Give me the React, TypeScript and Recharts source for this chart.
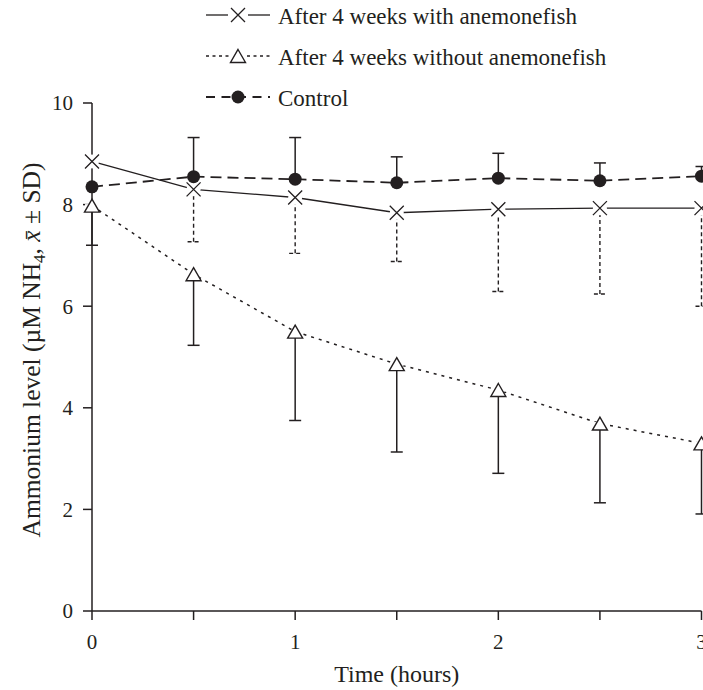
import React from 'react';
import { LineChart, Line, XAxis, YAxis, ErrorBar, Legend } from 'recharts';

// ---- data ----
const times = [0, 0.5, 1, 1.5, 2, 2.5, 3];
const withFish = [8.85, 8.3, 8.14, 7.84, 7.91, 7.93, 7.93];
const withFishSD = [0, 1.03, 1.1, 0.96, 1.62, 1.69, 1.93];
const withoutFish = [7.98, 6.63, 5.5, 4.86, 4.35, 3.69, 3.3];
const withoutFishSD = [0.78, 1.4, 1.75, 1.73, 1.64, 1.56, 1.39];
const control = [8.35, 8.55, 8.5, 8.43, 8.52, 8.47, 8.56];
const controlSD = [0, 0.77, 0.82, 0.51, 0.49, 0.35, 0.19];

const seriesNames = [
  'After 4 weeks with anemonefish',
  'After 4 weeks without anemonefish',
  'Control',
];
const xTicks = [0, 0.5, 1, 1.5, 2, 2.5, 3];
const yTicks = [0, 2, 4, 6, 8, 10];
const xTitle = 'Time (hours)';

const data = times.map((t, i) => ({
  t,
  withFish: withFish[i],
  withErr: [withFishSD[i], 0],
  without: withoutFish[i],
  withoutErr: [withoutFishSD[i], 0],
  control: control[i],
  controlErr: [0, controlSD[i]],
}));

const INK = '#231f20';
const FONT = '"Liberation Serif", "Times New Roman", serif';

// ---- marker shapes ----
const XMark = ({ cx, cy, bg = true }: any) => (
  <g>
    {bg && <circle cx={cx} cy={cy} r={7} fill="#fff" />}
    <path
      d={`M${cx - 7},${cy - 7}L${cx + 7},${cy + 7}M${cx + 7},${cy - 7}L${cx - 7},${cy + 7}`}
      stroke={INK}
      strokeWidth={1.3}
      fill="none"
    />
  </g>
);

const TriMark = ({ cx, cy, bg = true }: any) => (
  <g>
    {bg && <rect x={cx - 7} y={cy - 1.5} width={14} height={3} fill="#fff" />}
    <path
      d={`M${cx},${cy - 6.5}L${cx + 7.5},${cy + 6.5}L${cx - 7.5},${cy + 6.5}Z`}
      stroke={INK}
      strokeWidth={1.4}
      fill="#fff"
      strokeLinejoin="miter"
    />
  </g>
);

const DotMark = ({ cx, cy }: any) => <circle cx={cx} cy={cy} r={6.5} fill={INK} />;

const renderX = (p: any) => (p.cx == null ? null : <XMark key={`x${p.index}`} cx={p.cx} cy={p.cy} />);
const renderTri = (p: any) => (p.cx == null ? null : <TriMark key={`t${p.index}`} cx={p.cx} cy={p.cy} />);
const renderDot = (p: any) => (p.cx == null ? null : <DotMark key={`d${p.index}`} cx={p.cx} cy={p.cy} />);

// ---- legend ----
const LegendBox = () => {
  const rows = [15, 56, 97];
  const x0 = 206;
  const x1 = 270;
  const mx = 238;
  return (
    <svg width={703} height={115} style={{ display: 'block' }}>
      {/* row 1 */}
      <line x1={x0} y1={rows[0]} x2={mx - 10} y2={rows[0]} stroke={INK} strokeWidth={1.3} />
      <line x1={mx + 10} y1={rows[0]} x2={x1} y2={rows[0]} stroke={INK} strokeWidth={1.3} />
      <XMark cx={mx} cy={rows[0]} bg={false} />
      {/* row 2 */}
      <line x1={x0} y1={rows[1]} x2={mx - 8} y2={rows[1]} stroke={INK} strokeWidth={1.4} strokeDasharray="3 3.5" />
      <line x1={mx + 9} y1={rows[1]} x2={x1} y2={rows[1]} stroke={INK} strokeWidth={1.4} strokeDasharray="3 3.5" />
      <TriMark cx={mx} cy={rows[1]} bg={false} />
      {/* row 3 */}
      <line x1={x0} y1={rows[2]} x2={x1} y2={rows[2]} stroke={INK} strokeWidth={1.8} strokeDasharray="9 6.5" />
      <DotMark cx={mx} cy={rows[2]} />
      {seriesNames.map((n, i) => (
        <text key={n} x={278} y={rows[i] + 9} fill={INK} fontSize={23} fontFamily={FONT}>
          {n}
        </text>
      ))}
    </svg>
  );
};

// ---- y-axis title ----
const YTitle = (props: any) => {
  const vb = props.viewBox || { x: 0, y: 103, width: 92, height: 508 };
  const cx = vb.x + 40;
  const cy = vb.y + vb.height / 2 - 7;
  return (
    <text
      x={cx}
      y={cy}
      transform={`rotate(-90 ${cx} ${cy})`}
      textAnchor="middle"
      fill={INK}
      fontSize={25.5}
      fontFamily={FONT}
    >
      {'Ammonium level (\u00b5M NH'}
      <tspan dy={5} fontSize={17}>4</tspan>
      <tspan dy={-5}>{', '}</tspan>
      <tspan fontStyle="italic">{'x\u0304'}</tspan>
      {' \u00b1 SD)'}
    </text>
  );
};

export default function App() {
  return (
    <div
      style={{
        position: 'absolute',
        left: 0,
        top: 0,
        width: 703,
        height: 690,
        overflow: 'hidden',
        background: '#fff',
      }}
    >
      <LineChart
        width={720}
        height={690}
        data={data}
        margin={{ top: 103, right: 18.5, bottom: 0, left: 0 }}
      >
        <XAxis
          dataKey="t"
          type="number"
          domain={[0, 3]}
          ticks={xTicks}
          interval={0}
          tickFormatter={(v: number) => (Number.isInteger(v) ? String(v) : '')}
          height={79}
          tickSize={9}
          tickMargin={14}
          axisLine={{ stroke: INK, strokeWidth: 1.5 }}
          tickLine={{ stroke: INK, strokeWidth: 1.5 }}
          tick={{ fill: INK, fontSize: 21, fontFamily: FONT }}
          label={{
            value: xTitle,
            position: 'insideBottom',
            offset: 8,
            fill: INK,
            fontSize: 24,
            fontFamily: FONT,
          }}
        />
        <YAxis
          type="number"
          domain={[0, 10]}
          ticks={yTicks}
          interval={0}
          width={92}
          tickSize={9}
          tickMargin={10}
          axisLine={{ stroke: INK, strokeWidth: 1.5 }}
          tickLine={{ stroke: INK, strokeWidth: 1.5 }}
          tick={{ fill: INK, fontSize: 21, fontFamily: FONT }}
          label={(p: any) => <YTitle {...p} />}
        />
        <Legend
          layout="vertical"
          align="center"
          verticalAlign="middle"
          wrapperStyle={{ top: 0, left: 0, width: 703, height: 115 }}
          content={() => <LegendBox />}
        />
        <Line
          dataKey="withFish"
          name={seriesNames[0]}
          stroke={INK}
          strokeWidth={1.3}
          dot={renderX}
          activeDot={false}
          isAnimationActive={false}
        >
          <ErrorBar
            dataKey="withErr"
            direction="y"
            width={6}
            stroke={INK}
            strokeWidth={1.4}
            strokeDasharray="4 3"
            isAnimationActive={false}
          />
        </Line>
        <Line
          dataKey="without"
          name={seriesNames[1]}
          stroke={INK}
          strokeWidth={1.5}
          strokeDasharray="3 5"
          dot={renderTri}
          activeDot={false}
          isAnimationActive={false}
        >
          <ErrorBar
            dataKey="withoutErr"
            direction="y"
            width={6}
            stroke={INK}
            strokeWidth={1.5}
            isAnimationActive={false}
          />
        </Line>
        <Line
          dataKey="control"
          name={seriesNames[2]}
          stroke={INK}
          strokeWidth={1.8}
          strokeDasharray="11 6"
          dot={renderDot}
          activeDot={false}
          isAnimationActive={false}
        >
          <ErrorBar
            dataKey="controlErr"
            direction="y"
            width={6}
            stroke={INK}
            strokeWidth={1.5}
            isAnimationActive={false}
          />
        </Line>
      </LineChart>
    </div>
  );
}
